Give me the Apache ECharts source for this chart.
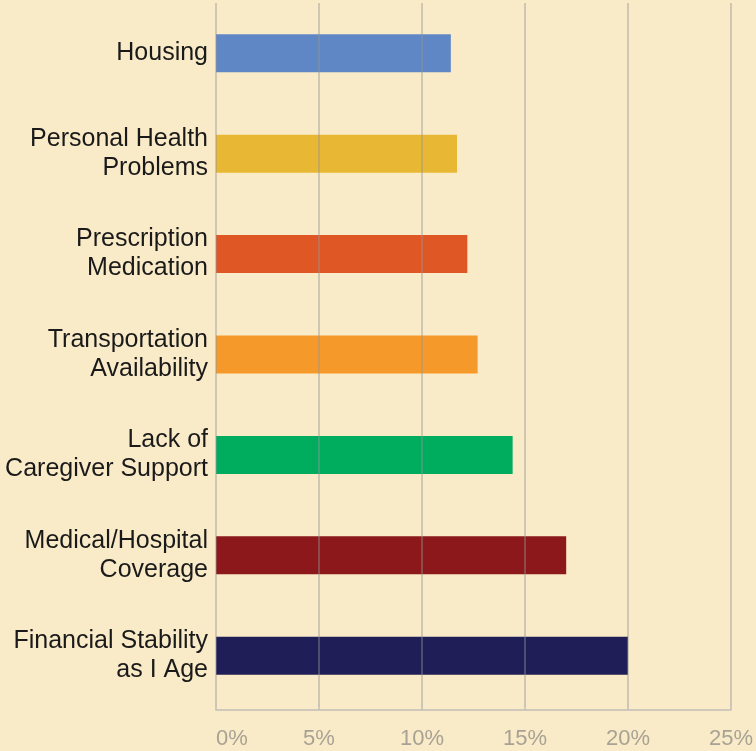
<!DOCTYPE html>
<html>
<head>
<meta charset="utf-8">
<script src="https://cdn.jsdelivr.net/npm/echarts@6/dist/echarts.min.js"></script>
<style>
  html, body { margin: 0; padding: 0; background: #faebc8; }
  #chart { width: 756px; height: 751px; }
</style>
</head>
<body>
<div id="chart"></div>
<script>
  // categories top to bottom
  const categories = [
    "Housing",
    "Personal Health\nProblems",
    "Prescription\nMedication",
    "Transportation\nAvailability",
    "Lack of\nCaregiver Support",
    "Medical/Hospital\nCoverage",
    "Financial Stability\nas I Age"
  ];
  const values = [11.4, 11.7, 12.2, 12.7, 14.4, 17.0, 20.0];
  const barColors = ["#5f87c6", "#e8b834", "#e05726", "#f59a2a", "#00ad5f", "#8c181b", "#1f1e57"];
  const xTicks = [0, 5, 10, 15, 20, 25];

  const chart = echarts.init(document.getElementById("chart"));
  const option = {
    backgroundColor: "#faebc8",
    animation: false,
    grid: { left: 216, right: 21, top: 3, bottom: 45 },
    xAxis: {
      type: "value",
      min: xTicks[0],
      max: xTicks[xTicks.length - 1],
      interval: 5,
      offset: 4,
      z: 10,
      axisLine: { show: true, lineStyle: { color: "#c2beb6", width: 1.5 } },
      axisTick: { show: true, inside: true, length: 5, lineStyle: { color: "#c2beb6", width: 1.5 } },
      splitLine: { show: true, lineStyle: { color: "rgba(150,150,150,0.55)", width: 1.5 } },
      axisLabel: {
        formatter: "{value}%",
        color: "#a8a294",
        fontSize: 22,
        fontFamily: "Liberation Sans, Arial, sans-serif",
        margin: 18,
        alignMinLabel: "left"
      }
    },
    yAxis: {
      type: "category",
      inverse: true,
      data: categories,
      axisLine: { show: false },
      axisTick: { show: false },
      axisLabel: {
        color: "#1a1a1a",
        fontSize: 25,
        lineHeight: 29,
        fontFamily: "Liberation Sans, Arial, sans-serif",
        margin: 8,
        align: "right"
      }
    },
    series: [{
      type: "bar",
      data: values.map((v, i) => ({ value: v, itemStyle: { color: barColors[i] } })),
      barWidth: 38
    }]
  };
  chart.setOption(option);
</script>
</body>
</html>
